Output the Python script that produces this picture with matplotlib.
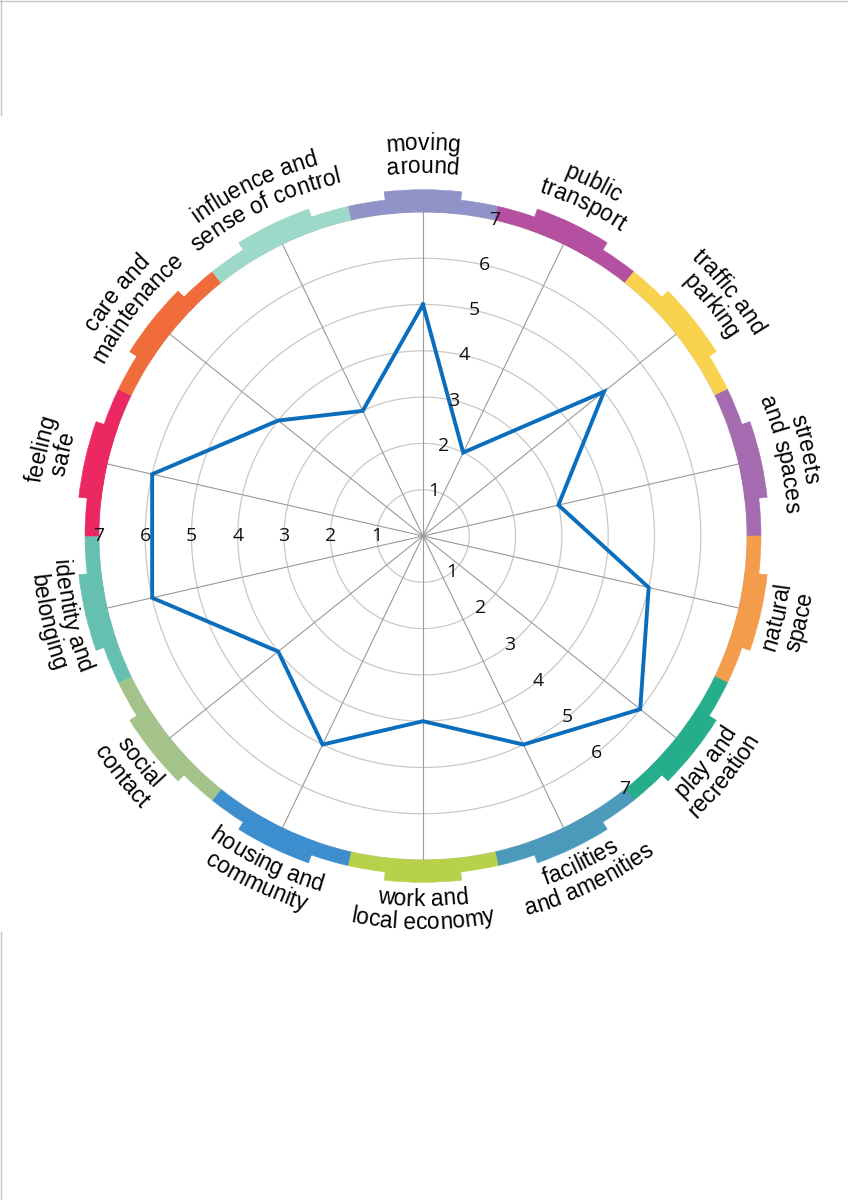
#!/usr/bin/env python
'''
place standard style radar chart
14 themes, scores 1..7, coloured band round the outside
'''
import numpy as np
import matplotlib
matplotlib.use('Agg')
import matplotlib.pyplot as plt
from matplotlib.font_manager import FontProperties
from matplotlib.lines import Line2D

# themes, clockwise from the top
label_lines = [
    ('moving', 'around'),
    ('public', 'transport'),
    ('traffic and', 'parking'),
    ('streets', 'and spaces'),
    ('natural', 'space'),
    ('play and', 'recreation'),
    ('facilities', 'and amenities'),
    ('work and', 'local economy'),
    ('housing and', 'community'),
    ('social', 'contact'),
    ('identity and', 'belonging'),
    ('feeling', 'safe'),
    ('care and', 'maintenance'),
    ('influence and', 'sense of control'),
]
scores = [5, 2, 5, 3, 5, 6, 5, 4, 5, 4, 6, 6, 4, 3]
band_colors = ['#9093c7', '#b4509f', '#f9d24e', '#a46bb0', '#f39c4b', '#25ad8c', '#4c9abb',
               '#b7d14a', '#3d8ecf', '#a4c38a', '#66c0b1', '#ec2863', '#f06c3b', '#9dd9c8']
ring_values = [1, 2, 3, 4, 5, 6, 7]
number_spokes = [0, 5, 10]   # scale numbers sit between spoke k and k+1

W, H = 848, 1200
cx, cy = 423, 536          # centre in pixels (from top)
unit = 46.3                # pixels per score point
rmax = 9.0

fig = plt.figure(figsize=(W / 100., H / 100.), dpi=100)
half = rmax * unit
ax = fig.add_axes([(cx - half) / W, (H - cy - half) / H, 2 * half / W, 2 * half / H], projection='polar')
ax.set_theta_zero_location('N')
ax.set_theta_direction(-1)
ax.set_ylim(0, rmax)
ax.axis('off')

n = len(scores)
step = 2 * np.pi / n
theta = np.arange(n) * step

# rings and spokes
t = np.linspace(0, 2 * np.pi, 721)
for v in ring_values:
    ax.plot(t, np.full_like(t, v), color='#c8c8c8', lw=0.9, zorder=1)
for th in theta:
    ax.plot([th, th], [0, 7], color='#9a9a9a', lw=0.8, zorder=1)

# coloured band with the raised middle part
ax.bar(theta, 0.30, width=step, bottom=7.0, color=band_colors, edgecolor=band_colors, linewidth=0.4, zorder=3)
ax.bar(theta, 0.48, width=step / 2, bottom=7.0, color=band_colors, edgecolor=band_colors, linewidth=0.4, zorder=3)

# scores
ax.plot(np.append(theta, theta[0]), scores + [scores[0]], color='#0a6ebd', lw=2.8, zorder=4,
        solid_joinstyle='miter')

# scale numbers
for k in number_spokes:
    th = (k + 0.5) * step
    for v in ring_values:
        ax.text(th, v, str(v), ha='center', va='center', fontsize=14, family='Open Sans',
                color='#111111', zorder=5)

# curved theme labels
renderer = fig.canvas.get_renderer()
prop = FontProperties(family='Liberation Sans', size=16.5)
bar_w = renderer.get_text_width_height_descent('|', prop, ismath=False)[0]


def advance(s):
    if not s:
        return 0.0
    return renderer.get_text_width_height_descent(s + '|', prop, ismath=False)[0] - bar_w


def curved(line, theta_c, r_px, outward):
    pos = [advance(line[:i]) for i in range(len(line) + 1)]
    total = pos[-1]
    phi_c = np.pi / 2 - theta_c
    for i, ch in enumerate(line):
        if ch == ' ':
            continue
        s = (pos[i] + pos[i + 1]) / 2. - total / 2.
        if outward:
            phi = phi_c - s / r_px
            rot = np.degrees(phi) - 90
        else:
            phi = phi_c + s / r_px
            rot = np.degrees(phi) + 90
        ax.text(np.pi / 2 - phi, r_px / unit, ch, rotation=rot, rotation_mode='anchor',
                ha='center', va='baseline', fontproperties=prop, color='black', zorder=6)


for k, (l1, l2) in enumerate(label_lines):
    th = theta[k]
    phi_deg = (90 - np.degrees(th)) % 360
    if 0 < phi_deg < 180:
        curved(l1, th, 386, True)
        curved(l2, th, 363, True)
    else:
        curved(l1, th, 370, False)
        curved(l2, th, 393, False)

# page edge lines
edge = '#c4c4c4'
fig.add_artist(Line2D([0, 1], [1 - 1. / H, 1 - 1. / H], transform=fig.transFigure, color=edge, lw=1))
fig.add_artist(Line2D([0.6 / W, 0.6 / W], [1, 1 - 115. / H], transform=fig.transFigure, color=edge, lw=1))
fig.add_artist(Line2D([0.6 / W, 0.6 / W], [1 - 932. / H, 0], transform=fig.transFigure, color=edge, lw=1))

fig.savefig('out.png', dpi=100, facecolor='white')
